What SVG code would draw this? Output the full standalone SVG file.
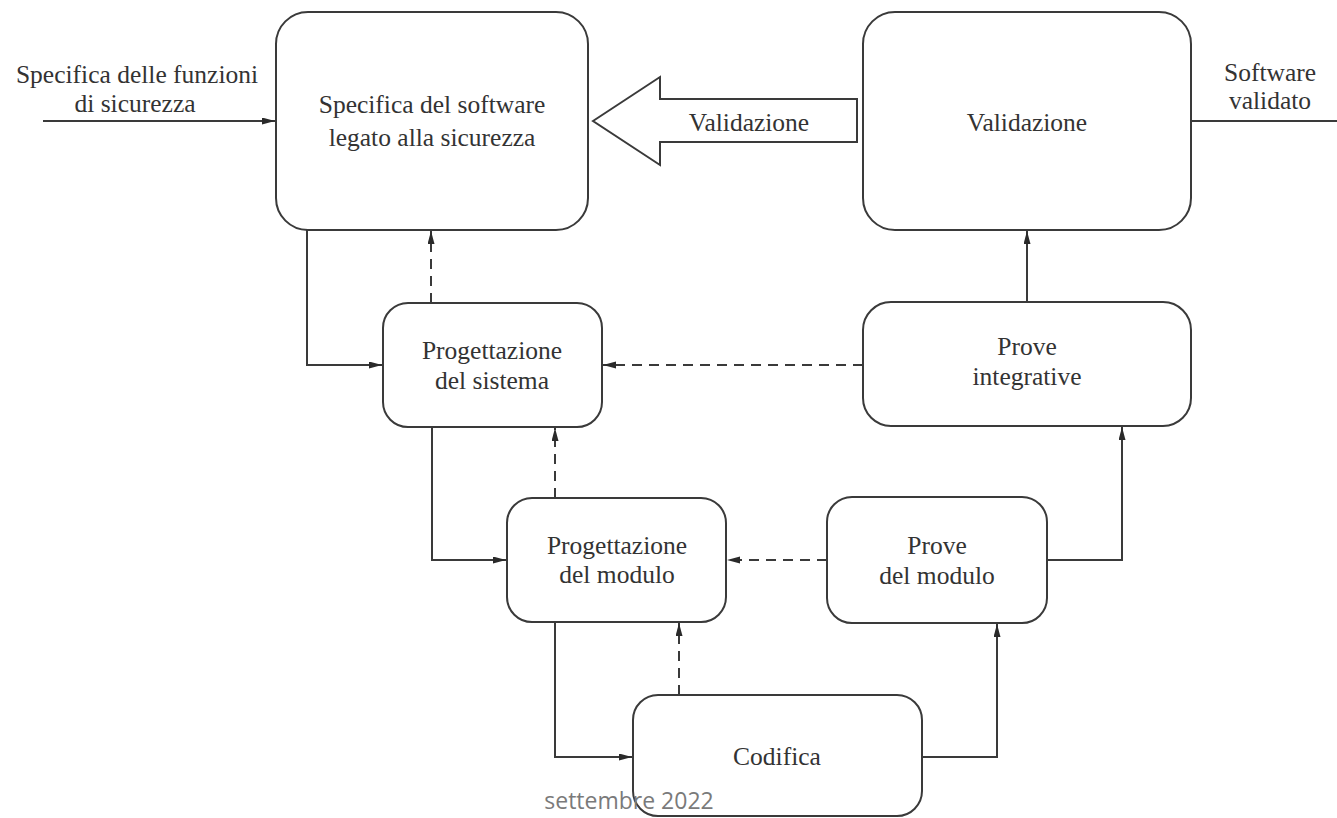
<svg xmlns="http://www.w3.org/2000/svg" width="1337" height="818" viewBox="0 0 1337 818">
<style>
.box{fill:#fff;stroke:#3a3a3a;stroke-width:2}
.t{font-family:"Liberation Serif","Times New Roman",serif;font-size:25.5px;fill:#333;text-anchor:middle}
.c{fill:none;stroke:#3a3a3a;stroke-width:2}
.d{stroke-dasharray:10 7}
.foot{font-family:"Open Sans","Noto Sans",sans-serif;font-size:23px;fill:#7a7a7a;text-anchor:middle}
</style>
<defs>
<marker id="ah" markerUnits="userSpaceOnUse" markerWidth="14" markerHeight="8" refX="13" refY="3.5" orient="auto">
<path d="M0,0 L13,3.5 L0,7 z" fill="#2a2a2a"/>
</marker>
</defs>
<rect width="1337" height="818" fill="#fff"/>
<g id="connectors">
<path class="c" d="M43,121 H275" marker-end="url(#ah)"/>
<path class="c" d="M1191,121 H1337"/>
<polygon id="validazione-arrow" points="593,121 660,77 660,99 857,99 857,142 660,142 660,165" fill="#fff" stroke="#3a3a3a" stroke-width="2"/>
<path class="c" d="M307,230 V365 H382" marker-end="url(#ah)"/>
<path class="c d" d="M431,303 V231" marker-end="url(#ah)"/>
<path class="c d" d="M863,365 H603" marker-end="url(#ah)"/>
<path class="c" d="M1027,302 V231" marker-end="url(#ah)"/>
<path class="c" d="M432,427 V560 H506" marker-end="url(#ah)"/>
<path class="c d" d="M555,498 V428" marker-end="url(#ah)"/>
<path class="c d" d="M827,560 H727" marker-end="url(#ah)"/>
<path class="c" d="M1047,560 H1122 V427" marker-end="url(#ah)"/>
<path class="c" d="M555,622 V757 H632" marker-end="url(#ah)"/>
<path class="c d" d="M679,695 V623" marker-end="url(#ah)"/>
<path class="c" d="M922,757 H997 V624" marker-end="url(#ah)"/>
</g>
<g id="input-label">
<text class="t" x="137" y="83">Specifica delle funzioni</text>
<text class="t" x="135" y="112">di sicurezza</text>
</g>
<g id="output-label">
<text class="t" x="1270" y="81">Software</text>
<text class="t" x="1270" y="109">validato</text>
</g>
<text class="t" x="749" y="131">Validazione</text>
<g id="specifica">
<rect class="box" x="276" y="12" width="312" height="218" rx="32"/>
<text class="t" x="432" y="113">Specifica del software</text>
<text class="t" x="432" y="146">legato alla sicurezza</text>
</g>
<g id="validazione">
<rect class="box" x="863" y="12" width="328" height="218" rx="32"/>
<text class="t" x="1027" y="131">Validazione</text>
</g>
<g id="progettazione-sistema">
<rect class="box" x="383" y="303" width="219" height="124" rx="25"/>
<text class="t" x="492" y="359">Progettazione</text>
<text class="t" x="492" y="389">del sistema</text>
</g>
<g id="prove-integrative">
<rect class="box" x="863" y="302" width="328" height="124" rx="28"/>
<text class="t" x="1027" y="355">Prove</text>
<text class="t" x="1027" y="385">integrative</text>
</g>
<g id="progettazione-modulo">
<rect class="box" x="507" y="498" width="219" height="124" rx="25"/>
<text class="t" x="617" y="554">Progettazione</text>
<text class="t" x="617" y="583">del modulo</text>
</g>
<g id="prove-modulo">
<rect class="box" x="827" y="497" width="220" height="126" rx="25"/>
<text class="t" x="937" y="554">Prove</text>
<text class="t" x="937" y="584">del modulo</text>
</g>
<g id="codifica">
<rect class="box" x="633" y="695" width="289" height="121" rx="25"/>
<text class="t" x="777" y="765">Codifica</text>
</g>
<text class="foot" x="629" y="809">settembre 2022</text>
</svg>
